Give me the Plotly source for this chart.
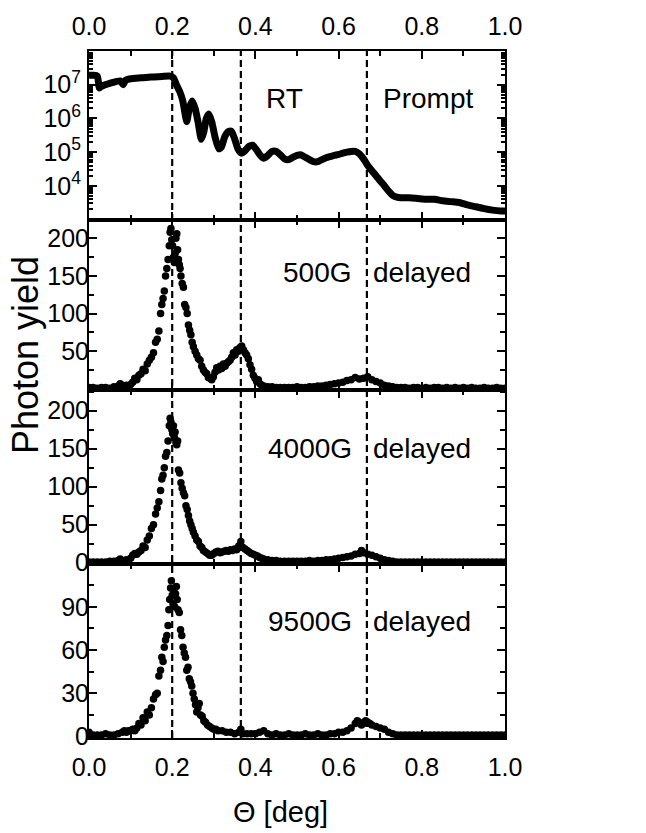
import plotly.graph_objects as go
from plotly.subplots import make_subplots

# ---------------- data ----------------
# Top panel: prompt RT yield (log scale)
theta_rt = [0.000, 0.010, 0.020, 0.025, 0.030, 0.050, 0.075, 0.082, 0.088, 0.100, 0.125, 0.150, 0.175, 0.195,
            0.203, 0.210, 0.218, 0.225, 0.230, 0.235, 0.241, 0.248, 0.255, 0.262, 0.270, 0.276, 0.282, 0.288,
            0.295, 0.303, 0.312, 0.318, 0.326, 0.334, 0.342, 0.350, 0.358, 0.366, 0.375, 0.385, 0.393, 0.402,
            0.412, 0.420, 0.430, 0.440, 0.450, 0.460, 0.470, 0.480, 0.490, 0.500, 0.510, 0.520, 0.530, 0.540,
            0.550, 0.560, 0.570, 0.580, 0.590, 0.600, 0.610, 0.620, 0.630, 0.640, 0.650, 0.660, 0.670, 0.680,
            0.690, 0.700, 0.710, 0.720, 0.730, 0.740, 0.750, 0.770, 0.790, 0.810, 0.830, 0.850, 0.870, 0.890,
            0.910, 0.930, 0.950, 0.970, 0.990, 1.000]
yield_rt = [1.9e7, 1.9e7, 1.8e7, 8.0e6, 9.0e6, 1.1e7, 1.3e7, 1.0e7, 1.35e7, 1.5e7, 1.6e7, 1.7e7, 1.75e7, 1.8e7,
            1.6e7, 1.0e7, 6.3e6, 3.5e6, 1.6e6, 8.0e5, 2.0e6, 3.3e6, 2.0e6, 8.0e5, 2.4e5, 4.0e5, 1.0e6, 1.35e6,
            8.0e5, 2.8e5, 1.25e5, 1.4e5, 2.8e5, 4.0e5, 4.2e5, 2.5e5, 1.25e5, 9.3e4, 1.1e5, 1.5e5, 1.6e5, 1.2e5,
            8.0e4, 6.6e4, 8.0e4, 1.05e5, 1.05e5, 8.3e4, 6.3e4, 6.0e4, 7.0e4, 8.0e4, 8.3e4, 7.0e4, 6.0e4, 5.2e4,
            5.2e4, 6.0e4, 6.8e4, 7.4e4, 8.0e4, 8.5e4, 9.3e4, 1.0e5, 1.05e5, 1.05e5, 8.9e4, 6.3e4, 4.0e4, 2.8e4,
            2.0e4, 1.4e4, 1.0e4, 7.0e3, 5.2e3, 4.6e3, 4.4e3, 4.4e3, 4.2e3, 4.0e3, 4.0e3, 3.6e3, 3.4e3, 3.2e3,
            2.7e3, 2.4e3, 2.1e3, 1.9e3, 1.8e3, 1.8e3]

# 500G delayed
theta_500 = [0.00, 0.01, 0.02, 0.03, 0.04, 0.05, 0.06, 0.07, 0.075, 0.08, 0.09, 0.10, 0.105, 0.11, 0.115, 0.12,
             0.125, 0.13, 0.135, 0.14, 0.145, 0.15, 0.155, 0.16, 0.164, 0.168, 0.172, 0.175, 0.178, 0.181, 0.184,
             0.187, 0.190, 0.193, 0.195, 0.197, 0.199, 0.201, 0.203, 0.205, 0.207, 0.209, 0.211, 0.213, 0.215,
             0.217, 0.219, 0.221, 0.224, 0.227, 0.230, 0.233, 0.236, 0.239, 0.242, 0.245, 0.248, 0.251, 0.255,
             0.259, 0.263, 0.267, 0.271, 0.275, 0.279, 0.283, 0.287, 0.291, 0.295, 0.299, 0.303, 0.307, 0.311,
             0.315, 0.319, 0.323, 0.327, 0.331, 0.335, 0.339, 0.343, 0.347, 0.351, 0.355, 0.359, 0.363, 0.367,
             0.371, 0.375, 0.379, 0.383, 0.387, 0.391, 0.395, 0.399, 0.403, 0.407, 0.411, 0.415, 0.42, 0.43,
             0.44, 0.45, 0.46, 0.47, 0.48, 0.49, 0.50, 0.51, 0.52, 0.53, 0.54, 0.55, 0.56, 0.57, 0.58, 0.59,
             0.60, 0.61, 0.62, 0.63, 0.64, 0.65, 0.66, 0.67, 0.68, 0.69, 0.70, 0.71, 0.72, 0.73, 0.74, 0.75,
             0.76, 0.77, 0.78, 0.79, 0.80, 0.81, 0.82, 0.83, 0.84, 0.85, 0.86, 0.87, 0.88, 0.89, 0.90, 0.91,
             0.92, 0.93, 0.94, 0.95, 0.96, 0.97, 0.98, 0.99, 1.00]
yield_500 = [2, 2, 1, 2, 2, 1, 3, 4, 7, 5, 5, 6, 9, 14, 12, 18,
             20, 26, 24, 33, 38, 42, 48, 62, 66, 77, 100, 112, 120, 130, 150,
             160, 172, 190, 208, 213, 198, 190, 175, 168, 180, 200, 206, 185, 172,
             165, 160, 150, 140, 135, 112, 108, 100, 85, 78, 72, 62, 56, 50,
             45, 40, 38, 30, 25, 22, 20, 15, 14, 12, 16, 22, 28, 25,
             30, 27, 33, 30, 34, 36, 38, 42, 48, 45, 52, 50, 55, 57,
             52, 48, 45, 40, 32, 26, 18, 14, 10, 12, 7, 5, 4, 3,
             3, 2, 2, 2, 2, 2, 3, 2, 2, 3, 3, 4, 4, 5, 6, 7,
             8, 9, 11, 12, 15, 13, 14, 16, 12, 10, 8, 5, 4, 3, 2, 2,
             2, 1, 2, 2, 1, 2, 1, 2, 2, 1, 2, 1, 2, 1, 2, 1,
             2, 1, 1, 2, 1, 1, 2, 1, 1]

# 4000G delayed
theta_4000 = [0.00, 0.01, 0.02, 0.03, 0.04, 0.05, 0.06, 0.07, 0.075, 0.08, 0.09, 0.10, 0.105, 0.11, 0.115, 0.12,
              0.125, 0.13, 0.135, 0.14, 0.145, 0.15, 0.155, 0.16, 0.164, 0.168, 0.172, 0.175, 0.178, 0.181,
              0.184, 0.187, 0.190, 0.193, 0.195, 0.197, 0.199, 0.201, 0.203, 0.205, 0.207, 0.209, 0.211, 0.213,
              0.215, 0.218, 0.221, 0.224, 0.227, 0.230, 0.233, 0.236, 0.239, 0.242, 0.245, 0.248, 0.251, 0.255,
              0.259, 0.263, 0.267, 0.271, 0.275, 0.28, 0.285, 0.29, 0.295, 0.30, 0.305, 0.31, 0.315, 0.32,
              0.325, 0.33, 0.335, 0.34, 0.345, 0.35, 0.355, 0.36, 0.365, 0.37, 0.375, 0.38, 0.385, 0.39, 0.395,
              0.40, 0.405, 0.41, 0.415, 0.42, 0.43, 0.44, 0.45, 0.46, 0.47, 0.48, 0.49, 0.50, 0.51, 0.52, 0.53,
              0.54, 0.55, 0.56, 0.57, 0.58, 0.59, 0.60, 0.61, 0.62, 0.63, 0.64, 0.65, 0.655, 0.66, 0.67, 0.68,
              0.69, 0.70, 0.71, 0.72, 0.73, 0.74, 0.75, 0.76, 0.77, 0.78, 0.79, 0.80, 0.81, 0.82, 0.83, 0.84,
              0.85, 0.86, 0.87, 0.88, 0.89, 0.90, 0.91, 0.92, 0.93, 0.94, 0.95, 0.96, 0.97, 0.98, 0.99, 1.00]
yield_4000 = [1, 1, 1, 1, 1, 2, 2, 3, 5, 3, 4, 6, 10, 12, 11, 14,
              16, 22, 20, 30, 35, 45, 50, 64, 72, 80, 95, 110, 115, 125,
              140, 145, 160, 180, 190, 185, 175, 170, 180, 165, 172, 158, 155, 160,
              122, 118, 105, 98, 92, 88, 75, 70, 62, 55, 50, 45, 40, 35,
              30, 28, 22, 20, 16, 14, 12, 10, 10, 12, 14, 15, 13, 14,
              15, 16, 15, 17, 16, 18, 17, 22, 28, 20, 18, 16, 14, 12, 11,
              10, 9, 7, 6, 5, 4, 3, 3, 2, 2, 2, 2, 2, 2, 2, 3,
              2, 3, 3, 4, 4, 5, 6, 7, 8, 9, 11, 12, 16, 13, 11, 10,
              8, 6, 4, 3, 2, 1, 1, 1, 1, 1, 1, 1, 1, 1, 1, 1,
              1, 1, 1, 1, 1, 1, 1, 1, 1, 1, 1, 1, 1, 1, 1, 1]

# 9500G delayed
theta_9500 = [0.00, 0.01, 0.02, 0.03, 0.04, 0.05, 0.06, 0.07, 0.08, 0.085, 0.09, 0.095, 0.10, 0.105, 0.11, 0.115,
              0.12, 0.125, 0.13, 0.135, 0.14, 0.145, 0.15, 0.155, 0.16, 0.164, 0.168, 0.172, 0.175, 0.178, 0.181,
              0.184, 0.187, 0.190, 0.192, 0.194, 0.196, 0.198, 0.200, 0.202, 0.204, 0.206, 0.208, 0.210, 0.212,
              0.214, 0.217, 0.220, 0.223, 0.226, 0.229, 0.232, 0.235, 0.238, 0.241, 0.244, 0.247, 0.250, 0.253,
              0.256, 0.259, 0.262, 0.265, 0.268, 0.272, 0.276, 0.28, 0.285, 0.29, 0.295, 0.30, 0.305, 0.31, 0.32,
              0.33, 0.34, 0.35, 0.36, 0.365, 0.37, 0.38, 0.39, 0.40, 0.41, 0.42, 0.43, 0.44, 0.45, 0.46, 0.47,
              0.48, 0.49, 0.50, 0.51, 0.52, 0.53, 0.54, 0.55, 0.56, 0.57, 0.58, 0.59, 0.60, 0.61, 0.62, 0.63,
              0.64, 0.645, 0.65, 0.655, 0.66, 0.665, 0.67, 0.675, 0.68, 0.69, 0.70, 0.71, 0.72, 0.73, 0.74, 0.75,
              0.76, 0.77, 0.78, 0.79, 0.80, 0.81, 0.82, 0.83, 0.84, 0.85, 0.86, 0.87, 0.88, 0.89, 0.90, 0.91,
              0.92, 0.93, 0.94, 0.95, 0.96, 0.97, 0.98, 0.99, 1.00]
yield_9500 = [3, 1, 1, 1, 2, 1, 1, 2, 3, 4, 3, 4, 4, 5, 4, 6,
              9, 8, 13, 11, 17, 15, 20, 26, 29, 30, 42, 46, 55, 52, 62,
              67, 70, 77, 88, 95, 103, 108, 98, 92, 100, 90, 99, 104, 95,
              88, 86, 74, 70, 62, 58, 55, 46, 48, 40, 38, 35, 30, 26,
              22, 17, 20, 23, 15, 14, 11, 10, 8, 7, 6, 5, 5, 4, 4,
              3, 3, 2, 3, 5, 2, 2, 2, 2, 3, 4, 2, 1, 2, 1, 1,
              2, 1, 1, 1, 2, 1, 1, 2, 1, 1, 2, 2, 3, 3, 4, 6,
              9, 11, 10, 8, 9, 11, 10, 9, 8, 7, 6, 5, 3, 2, 1, 1,
              1, 1, 1, 1, 1, 1, 1, 1, 1, 1, 1, 1, 1, 1, 1, 1,
              1, 1, 1, 1, 1, 1, 1, 1, 1]

x_ticks = [0.0, 0.2, 0.4, 0.6, 0.8, 1.0]
x_ticklabels = ["0.0", "0.2", "0.4", "0.6", "0.8", "1.0"]
log_tickvals = [1e4, 1e5, 1e6, 1e7]
log_ticktext = ["10<sup>4</sup>", "10<sup>5</sup>", "10<sup>6</sup>", "10<sup>7</sup>"]
marker_lines = [0.2, 0.365, 0.668]

# ---------------- figure ----------------
FONT = "Liberation Sans, Arial, sans-serif"
fig = make_subplots(rows=4, cols=1, shared_xaxes=True, vertical_spacing=0)

fig.add_trace(go.Scatter(x=theta_rt, y=yield_rt, mode="lines",
                         line=dict(color="black", width=7, shape="spline", smoothing=0.6),
                         showlegend=False), row=1, col=1)
for r, (xs, ys) in enumerate([(theta_500, yield_500), (theta_4000, yield_4000), (theta_9500, yield_9500)], start=2):
    fig.add_trace(go.Scatter(x=xs, y=ys, mode="markers",
                             marker=dict(color="black", size=7.5, line=dict(width=0)),
                             showlegend=False), row=r, col=1)

axis_common = dict(showline=True, linecolor="black", linewidth=2, mirror="allticks",
                   ticks="inside", ticklen=8, tickwidth=2, tickcolor="black",
                   showgrid=False, zeroline=False,
                   tickfont=dict(family=FONT, size=25, color="black"))

for r in range(1, 5):
    xa = dict(axis_common, range=[0, 1], tickvals=x_ticks, ticktext=x_ticklabels,
              minor=dict(ticks="inside", ticklen=5, tickwidth=1.5, tickcolor="black", dtick=0.1, showgrid=False))
    if r == 1:
        xa.update(side="top", showticklabels=True, ticklabelstandoff=4)
    elif r == 4:
        xa.update(showticklabels=True, ticklabelstandoff=6)
    else:
        xa.update(showticklabels=False)
    fig.update_xaxes(xa, row=r, col=1)

Y_STANDOFF = -7
fig.update_yaxes(dict(axis_common, type="log", range=[3, 8], tickvals=log_tickvals, ticktext=log_ticktext,
                      ticklabelstandoff=1,
                      minor=dict(ticks="inside", ticklen=4, tickwidth=1.5, tickcolor="black", dtick="D1", showgrid=False)),
                 row=1, col=1)
fig.update_yaxes(dict(axis_common, range=[-1.5, 225], tickvals=[50, 100, 150, 200], ticklabelstandoff=Y_STANDOFF,
                      minor=dict(ticks="inside", ticklen=5, tickwidth=1.5, tickcolor="black", dtick=25, tick0=0, showgrid=False)),
                 row=2, col=1)
fig.update_yaxes(dict(axis_common, range=[-1, 227], tickvals=[0, 50, 100, 150, 200], ticklabelstandoff=Y_STANDOFF,
                      minor=dict(ticks="inside", ticklen=5, tickwidth=1.5, tickcolor="black", dtick=25, tick0=0, showgrid=False)),
                 row=3, col=1)
fig.update_yaxes(dict(axis_common, range=[-1, 120], tickvals=[0, 30, 60, 90], ticklabelstandoff=Y_STANDOFF,
                      minor=dict(ticks="inside", ticklen=5, tickwidth=1.5, tickcolor="black", dtick=15, tick0=0, showgrid=False)),
                 row=4, col=1)

fig.update_layout(
    yaxis=dict(domain=[0.7547, 1.0]),
    yaxis2=dict(domain=[0.5065, 0.7547]),
    yaxis3=dict(domain=[0.254, 0.5065]),
    yaxis4=dict(domain=[0.0, 0.254]),
)

for xv in marker_lines:
    fig.add_shape(type="line", xref="x", yref="paper", x0=xv, x1=xv, y0=0, y1=1,
                  line=dict(color="black", width=2.2, dash="7px,4px"), layer="above")

ann_font = dict(family=FONT, size=28, color="black")
annotations = [
    dict(text="RT", x=0.47, y=6.6, xref="x", yref="y", xanchor="center", yanchor="middle", showarrow=False, font=ann_font),
    dict(text="Prompt", x=0.815, y=6.6, xref="x", yref="y", xanchor="center", yanchor="middle", showarrow=False, font=ann_font),
]
for yref, label, yv in [("y2", "500G", 154), ("y3", "4000G", 150), ("y4", "9500G", 80)]:
    annotations.append(dict(text=label, x=0.638, y=yv, xref="x", yref=yref, xanchor="right", yanchor="middle",
                            showarrow=False, font=ann_font))
    annotations.append(dict(text="delayed", x=0.679, y=yv, xref="x", yref=yref, xanchor="left", yanchor="middle",
                            showarrow=False, font=ann_font))
annotations.append(dict(text="Photon yield", x=-0.152, y=0.557, xref="paper", yref="paper", textangle=-90,
                        xanchor="center", yanchor="middle", showarrow=False,
                        font=dict(family=FONT, size=36, color="black")))
annotations.append(dict(text="Θ [deg]", x=0.46, y=-0.107, xref="paper", yref="paper",
                        xanchor="center", yanchor="middle", showarrow=False,
                        font=dict(family=FONT, size=29, color="black")))

fig.update_layout(
    width=646, height=833,
    margin=dict(l=89, r=141, t=49, b=95),
    paper_bgcolor="white", plot_bgcolor="white",
    annotations=annotations,
    showlegend=False,
)

fig.write_html("out.html", config={"displayModeBar": False},
               post_script="document.body.style.margin='0';document.body.style.padding='0';")
